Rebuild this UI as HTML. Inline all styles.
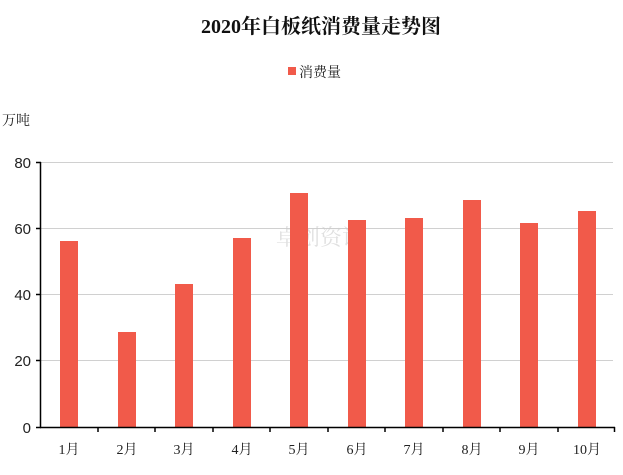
<!DOCTYPE html>
<html><head><meta charset="utf-8"><style>
body{margin:0;background:#fff;}
svg text{font-family:"Liberation Serif","Noto Serif CJK SC",serif;}
</style></head><body>
<svg width="623" height="470" xmlns="http://www.w3.org/2000/svg">
<text x="321" y="33" font-size="20" font-weight="bold" text-anchor="middle" fill="#111">2020年白板纸消费量走势图</text>
<rect x="288" y="67" width="8" height="8" fill="#f15a4a"/>
<text x="299" y="77" font-size="14" fill="#222">消费量</text>
<text x="2" y="125" font-size="14" fill="#222">万吨</text>
<g stroke="#d0d0d0" stroke-width="1">
<line x1="41" y1="162.5" x2="613" y2="162.5"/>
<line x1="41" y1="228.5" x2="613" y2="228.5"/>
<line x1="41" y1="294.5" x2="613" y2="294.5"/>
<line x1="41" y1="360.5" x2="613" y2="360.5"/>
</g>
<text x="320" y="245" font-size="22" fill="#ccc" text-anchor="middle" opacity="0.6">卓创资讯</text>
<g fill="#f15a4a">
<rect x="60" y="241" width="18" height="186"/>
<rect x="118" y="332" width="18" height="95"/>
<rect x="175" y="284" width="18" height="143"/>
<rect x="233" y="238" width="18" height="189"/>
<rect x="290" y="193" width="18" height="234"/>
<rect x="348" y="220" width="18" height="207"/>
<rect x="405" y="218" width="18" height="209"/>
<rect x="463" y="200" width="18" height="227"/>
<rect x="520" y="223" width="18" height="204"/>
<rect x="578" y="211" width="18" height="216"/>
</g>
<g stroke="#000" stroke-width="1.5">
<line x1="40.5" y1="162" x2="40.5" y2="428"/>
<line x1="40" y1="427.5" x2="615" y2="427.5"/>
<line x1="36" y1="162.5" x2="41" y2="162.5"/>
<line x1="36" y1="228.5" x2="41" y2="228.5"/>
<line x1="36" y1="294.5" x2="41" y2="294.5"/>
<line x1="36" y1="360.5" x2="41" y2="360.5"/>
<line x1="36" y1="427.5" x2="41" y2="427.5"/>
<line x1="98" y1="427" x2="98" y2="432"/>
<line x1="155" y1="427" x2="155" y2="432"/>
<line x1="213" y1="427" x2="213" y2="432"/>
<line x1="270" y1="427" x2="270" y2="432"/>
<line x1="328" y1="427" x2="328" y2="432"/>
<line x1="385" y1="427" x2="385" y2="432"/>
<line x1="443" y1="427" x2="443" y2="432"/>
<line x1="500" y1="427" x2="500" y2="432"/>
<line x1="558" y1="427" x2="558" y2="432"/>
<line x1="614.5" y1="427" x2="614.5" y2="432"/>
</g>
<g font-size="15" fill="#222" text-anchor="end" font-family="Liberation Sans, sans-serif">
<text x="31" y="168" style="font-family:'Liberation Sans',sans-serif">80</text>
<text x="31" y="234" style="font-family:'Liberation Sans',sans-serif">60</text>
<text x="31" y="300" style="font-family:'Liberation Sans',sans-serif">40</text>
<text x="31" y="366" style="font-family:'Liberation Sans',sans-serif">20</text>
<text x="31" y="433" style="font-family:'Liberation Sans',sans-serif">0</text>
</g>
<g font-size="14" fill="#222" text-anchor="middle">
<text x="69" y="454">1月</text>
<text x="127" y="454">2月</text>
<text x="184" y="454">3月</text>
<text x="242" y="454">4月</text>
<text x="299" y="454">5月</text>
<text x="357" y="454">6月</text>
<text x="414" y="454">7月</text>
<text x="472" y="454">8月</text>
<text x="529" y="454">9月</text>
<text x="587" y="454">10月</text>
</g>
</svg>
</body></html>
